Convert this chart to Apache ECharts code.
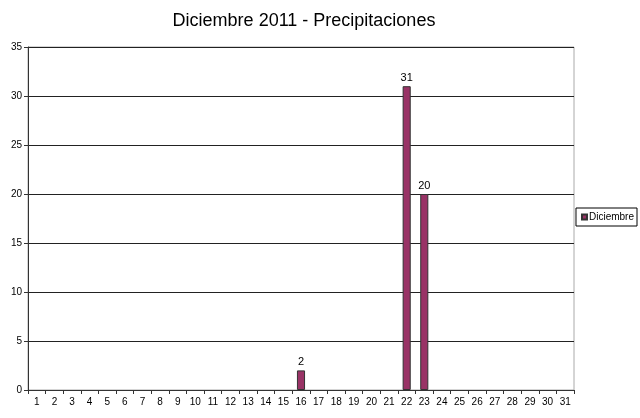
<!DOCTYPE html>
<html><head><meta charset="utf-8">
<script src="https://cdn.jsdelivr.net/npm/echarts@6/dist/echarts.min.js"></script>
<style>html,body{margin:0;padding:0;background:#fff}#c{width:640px;height:418px}</style>
</head><body><div id="c"></div>
<script>
const days = ['1','2','3','4','5','6','7','8','9','10','11','12','13','14','15','16','17','18','19','20','21','22','23','24','25','26','27','28','29','30','31'];
const rain = [0,0,0,0,0,0,0,0,0,0,0,0,0,0,0,2,0,0,0,0,0,31,20,0,0,0,0,0,0,0,0];
const seriesName = 'Diciembre';
const chart = echarts.init(document.getElementById('c'));
const font = 'Liberation Sans, Arial, sans-serif';
chart.setOption({
  animation: false,
  title: { text: 'Diciembre 2011 - Precipitaciones', left: 299, top: 7, textAlign: 'center',
    textStyle: { fontFamily: font, fontSize: 18, fontWeight: 'normal', color: '#000' } },
  legend: { right: 3, top: 208, orient: 'vertical', itemWidth: 5, itemHeight: 5, itemGap: 0,
    borderColor: '#000', borderWidth: 1, padding: [4, 3, 4, 5],
    textStyle: { fontFamily: font, fontSize: 10, color: '#000', padding: [0,0,0,-3] },
    data: [{ name: seriesName, icon: 'rect' }] },
  grid: { left: 28, right: 66, top: 47, bottom: 28, show: true, borderColor: '#aaa', borderWidth: 1 },
  xAxis: { type: 'category', data: days, boundaryGap: true,
    axisLine: { lineStyle: { color: '#333' } },
    axisTick: { show: true, length: 4, interval: 0, lineStyle: { color: '#333' } },
    axisLabel: { interval: 0, fontFamily: font, fontSize: 10, color: '#000', margin: 7 } },
  yAxis: { type: 'value', min: 0, max: 35, interval: 5,
    axisLine: { show: true, lineStyle: { color: '#333' } },
    axisTick: { show: true, length: 4, lineStyle: { color: '#333' } },
    splitLine: { lineStyle: { color: '#222' } },
    axisLabel: { fontFamily: font, fontSize: 10, color: '#000', margin: 6 } },
  series: [{ name: seriesName, type: 'bar', barWidth: '46%',
    data: rain.map(v => v === 0 ? { value: v, itemStyle: { borderWidth: 0 } } : v),
    itemStyle: { color: '#993366', borderColor: '#333', borderWidth: 1 },
    label: { show: true, position: 'top', distance: 3, fontFamily: font, fontSize: 11, color: '#000',
      formatter: p => p.value > 0 ? p.value : '' } }]
});
</script></body></html>
